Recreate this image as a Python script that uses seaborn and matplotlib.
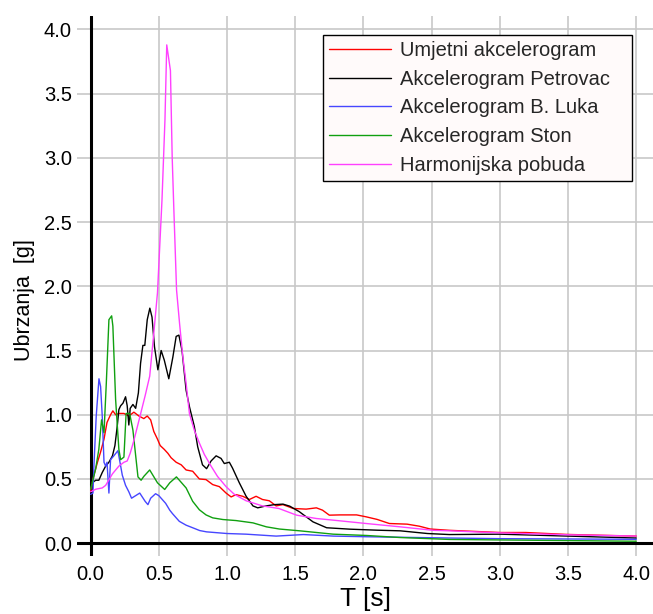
import pandas as pd
import matplotlib
matplotlib.use("Agg")
import matplotlib.pyplot as plt
import seaborn as sns

# spectral accelerations
t_umjetni = [0.0, 0.024, 0.05, 0.073, 0.098, 0.12, 0.146, 0.163, 0.183, 0.207, 0.244, 0.28,
             0.317, 0.354, 0.39, 0.415, 0.44, 0.463, 0.49, 0.51, 0.54, 0.566, 0.59, 0.627,
             0.664, 0.70, 0.748, 0.797, 0.846, 0.895, 0.944, 0.993, 1.03, 1.066, 1.115,
             1.164, 1.213, 1.26, 1.31, 1.36, 1.41, 1.485, 1.58, 1.655, 1.70, 1.75, 1.827,
             1.95, 2.02, 2.10, 2.19, 2.32, 2.41, 2.49, 2.63, 3.0, 3.19, 3.49, 4.0]
a_umjetni = [0.41, 0.53, 0.63, 0.71, 0.81, 0.94, 1.0, 1.03, 1.0, 1.01, 1.01, 0.99,
             1.02, 0.99, 0.97, 0.99, 0.96, 0.87, 0.81, 0.76, 0.73, 0.70, 0.665, 0.63,
             0.61, 0.57, 0.56, 0.50, 0.495, 0.456, 0.44, 0.39, 0.36, 0.378, 0.365,
             0.34, 0.365, 0.34, 0.33, 0.29, 0.30, 0.27, 0.265, 0.275, 0.257, 0.218, 0.22,
             0.22, 0.205, 0.185, 0.153, 0.148, 0.132, 0.11, 0.10, 0.083, 0.083, 0.068, 0.055]

t_petrovac = [0.0, 0.037, 0.06, 0.085, 0.11, 0.134, 0.16, 0.178, 0.195, 0.207, 0.22, 0.237,
              0.256, 0.268, 0.28, 0.29, 0.31, 0.33, 0.35, 0.366, 0.383, 0.397, 0.415, 0.434,
              0.45, 0.468, 0.493, 0.517, 0.54, 0.573, 0.603, 0.627, 0.647, 0.67, 0.70,
              0.725, 0.76, 0.785, 0.82, 0.85, 0.883, 0.92, 0.956, 0.98, 1.017, 1.04, 1.09,
              1.14, 1.19, 1.225, 1.286, 1.347, 1.41, 1.46, 1.53, 1.63, 1.73, 1.90, 2.10,
              2.27, 2.47, 2.63, 3.0, 3.5, 4.0]
a_petrovac = [0.46, 0.49, 0.49, 0.55, 0.60, 0.63, 0.68, 0.76, 0.91, 1.04, 1.07, 1.09,
              1.14, 1.07, 0.92, 1.05, 1.08, 1.05, 1.17, 1.40, 1.54, 1.54, 1.74, 1.83,
              1.76, 1.53, 1.35, 1.50, 1.425, 1.28, 1.45, 1.61, 1.62, 1.50, 1.19,
              1.06, 0.91, 0.75, 0.61, 0.58, 0.64, 0.68, 0.66, 0.62, 0.63, 0.585, 0.47,
              0.365, 0.29, 0.275, 0.29, 0.30, 0.304, 0.288, 0.245, 0.166, 0.12, 0.109, 0.101,
              0.096, 0.075, 0.067, 0.07, 0.055, 0.04]

t_luka = [0.0, 0.017, 0.024, 0.041, 0.061, 0.073, 0.085, 0.098, 0.11, 0.12, 0.134, 0.146,
          0.17, 0.20, 0.232, 0.256, 0.28, 0.30, 0.33, 0.36, 0.40, 0.42, 0.44, 0.476, 0.50,
          0.55, 0.58, 0.60, 0.65, 0.70, 0.748, 0.80, 0.85, 1.0, 1.14, 1.36, 1.56, 1.78,
          2.02, 2.63, 3.0, 4.0]
a_luka = [0.38, 0.39, 0.60, 0.99, 1.28, 1.22, 0.99, 0.63, 0.60, 0.63, 0.39, 0.65,
          0.68, 0.72, 0.53, 0.45, 0.40, 0.35, 0.37, 0.39, 0.325, 0.30, 0.35, 0.385, 0.37,
          0.31, 0.257, 0.23, 0.17, 0.14, 0.12, 0.098, 0.088, 0.075, 0.07, 0.055, 0.067, 0.055,
          0.05, 0.04, 0.035, 0.03]

t_ston = [0.0, 0.037, 0.06, 0.08, 0.098, 0.115, 0.134, 0.154, 0.163, 0.183, 0.207, 0.22,
          0.244, 0.26, 0.286, 0.31, 0.347, 0.37, 0.39, 0.433, 0.49, 0.543, 0.58, 0.629,
          0.70, 0.748, 0.797, 0.846, 0.895, 0.97, 1.066, 1.19, 1.289, 1.384, 1.533, 1.778,
          2.02, 2.267, 2.63, 3.0, 3.5, 4.0]
a_ston = [0.42, 0.58, 0.73, 0.96, 0.86, 1.25, 1.74, 1.77, 1.69, 1.12, 0.73, 0.65,
          0.67, 1.01, 1.01, 0.88, 0.516, 0.49, 0.52, 0.57, 0.47, 0.418, 0.47, 0.516,
          0.43, 0.326, 0.26, 0.22, 0.197, 0.184, 0.176, 0.158, 0.127, 0.11, 0.096, 0.07,
          0.06, 0.044, 0.029, 0.025, 0.02, 0.015]

t_harm = [0.0, 0.037, 0.085, 0.11, 0.16, 0.207, 0.244, 0.268, 0.29, 0.317, 0.36, 0.40,
          0.433, 0.46, 0.49, 0.523, 0.545, 0.558, 0.585, 0.598, 0.61, 0.63, 0.652, 0.676,
          0.70, 0.724, 0.76, 0.797, 0.834, 0.883, 0.93, 0.993, 1.054, 1.14, 1.26, 1.38,
          1.51, 1.655, 1.78, 2.02, 2.27, 2.51, 2.63, 3.0, 3.5, 4.0]
a_harm = [0.40, 0.42, 0.43, 0.45, 0.54, 0.60, 0.63, 0.64, 0.70, 0.80, 0.98, 1.15,
          1.30, 1.6, 1.95, 2.67, 3.3, 3.88, 3.68, 3.0, 2.6, 1.97, 1.71, 1.45,
          1.245, 1.01, 0.88, 0.78, 0.69, 0.60, 0.52, 0.44, 0.38, 0.33, 0.29, 0.27,
          0.218, 0.192, 0.179, 0.153, 0.127, 0.10, 0.096, 0.08, 0.065, 0.055]

labels = ["Umjetni akcelerogram", "Akcelerogram Petrovac", "Akcelerogram B. Luka",
          "Akcelerogram Ston", "Harmonijska pobuda"]
colors = ["#ff0000", "#000000", "#4646ff", "#10a010", "#ff40ff"]
ticks = [0.0, 0.5, 1.0, 1.5, 2.0, 2.5, 3.0, 3.5, 4.0]

sns.set_style("white")
plt.rcParams["font.family"] = ["Liberation Sans", "DejaVu Sans"]

fig = plt.figure(figsize=(6.53, 6.14), dpi=100)
ax = fig.add_axes([77 / 653, 58 / 614, 576 / 653, 540 / 614])

series = [(t_umjetni, a_umjetni), (t_petrovac, a_petrovac), (t_luka, a_luka),
          (t_ston, a_ston), (t_harm, a_harm)]
for (t, a), lab, col in zip(series, labels, colors):
    df = pd.DataFrame({"T": t, "a": a})
    sns.lineplot(data=df, x="T", y="a", ax=ax, color=col, label=lab,
                 linewidth=1.0, estimator=None, sort=False)

ax.set_xlim(-0.1, 4.123)
ax.set_ylim(-0.1, 4.105)
ax.set_xticks(ticks)
ax.set_yticks(ticks)
ax.set_xticklabels([f"{v:.1f}" for v in ticks])
ax.set_yticklabels([f"{v:.1f}" for v in ticks])
ax.grid(True, color="#c8c8c8", linewidth=1.2)
ax.set_axisbelow(True)
for s in ax.spines.values():
    s.set_visible(False)
ax.axvline(0, color="black", linewidth=2.2, zorder=1.5)
ax.axhline(0, color="black", linewidth=2.2, zorder=1.5)
ax.tick_params(axis="both", length=0, labelsize=14.5, colors="black")
ax.tick_params(axis="x", pad=6.5)
ax.tick_params(axis="y", pad=3.6)

ax.set_xlabel("T [s]", fontsize=19, color="black")
ax.set_ylabel("Ubrzanja  [g]", fontsize=15.5, color="black")
ax.xaxis.set_label_coords(0.5, -0.058)
ax.yaxis.set_label_coords(-0.073, 0.474)

leg = ax.legend(loc="upper left", bbox_to_anchor=(0.4271, 0.6944, 0.5364, 0.2704),
                mode="expand", borderaxespad=0, fancybox=False, edgecolor="black",
                facecolor="#fffafa", framealpha=1, fontsize=14.5, handlelength=3.1,
                handletextpad=0.42, labelspacing=0.48, borderpad=0.3)
leg.get_frame().set_linewidth(1.0)

fig.savefig("out.png", dpi=100)
